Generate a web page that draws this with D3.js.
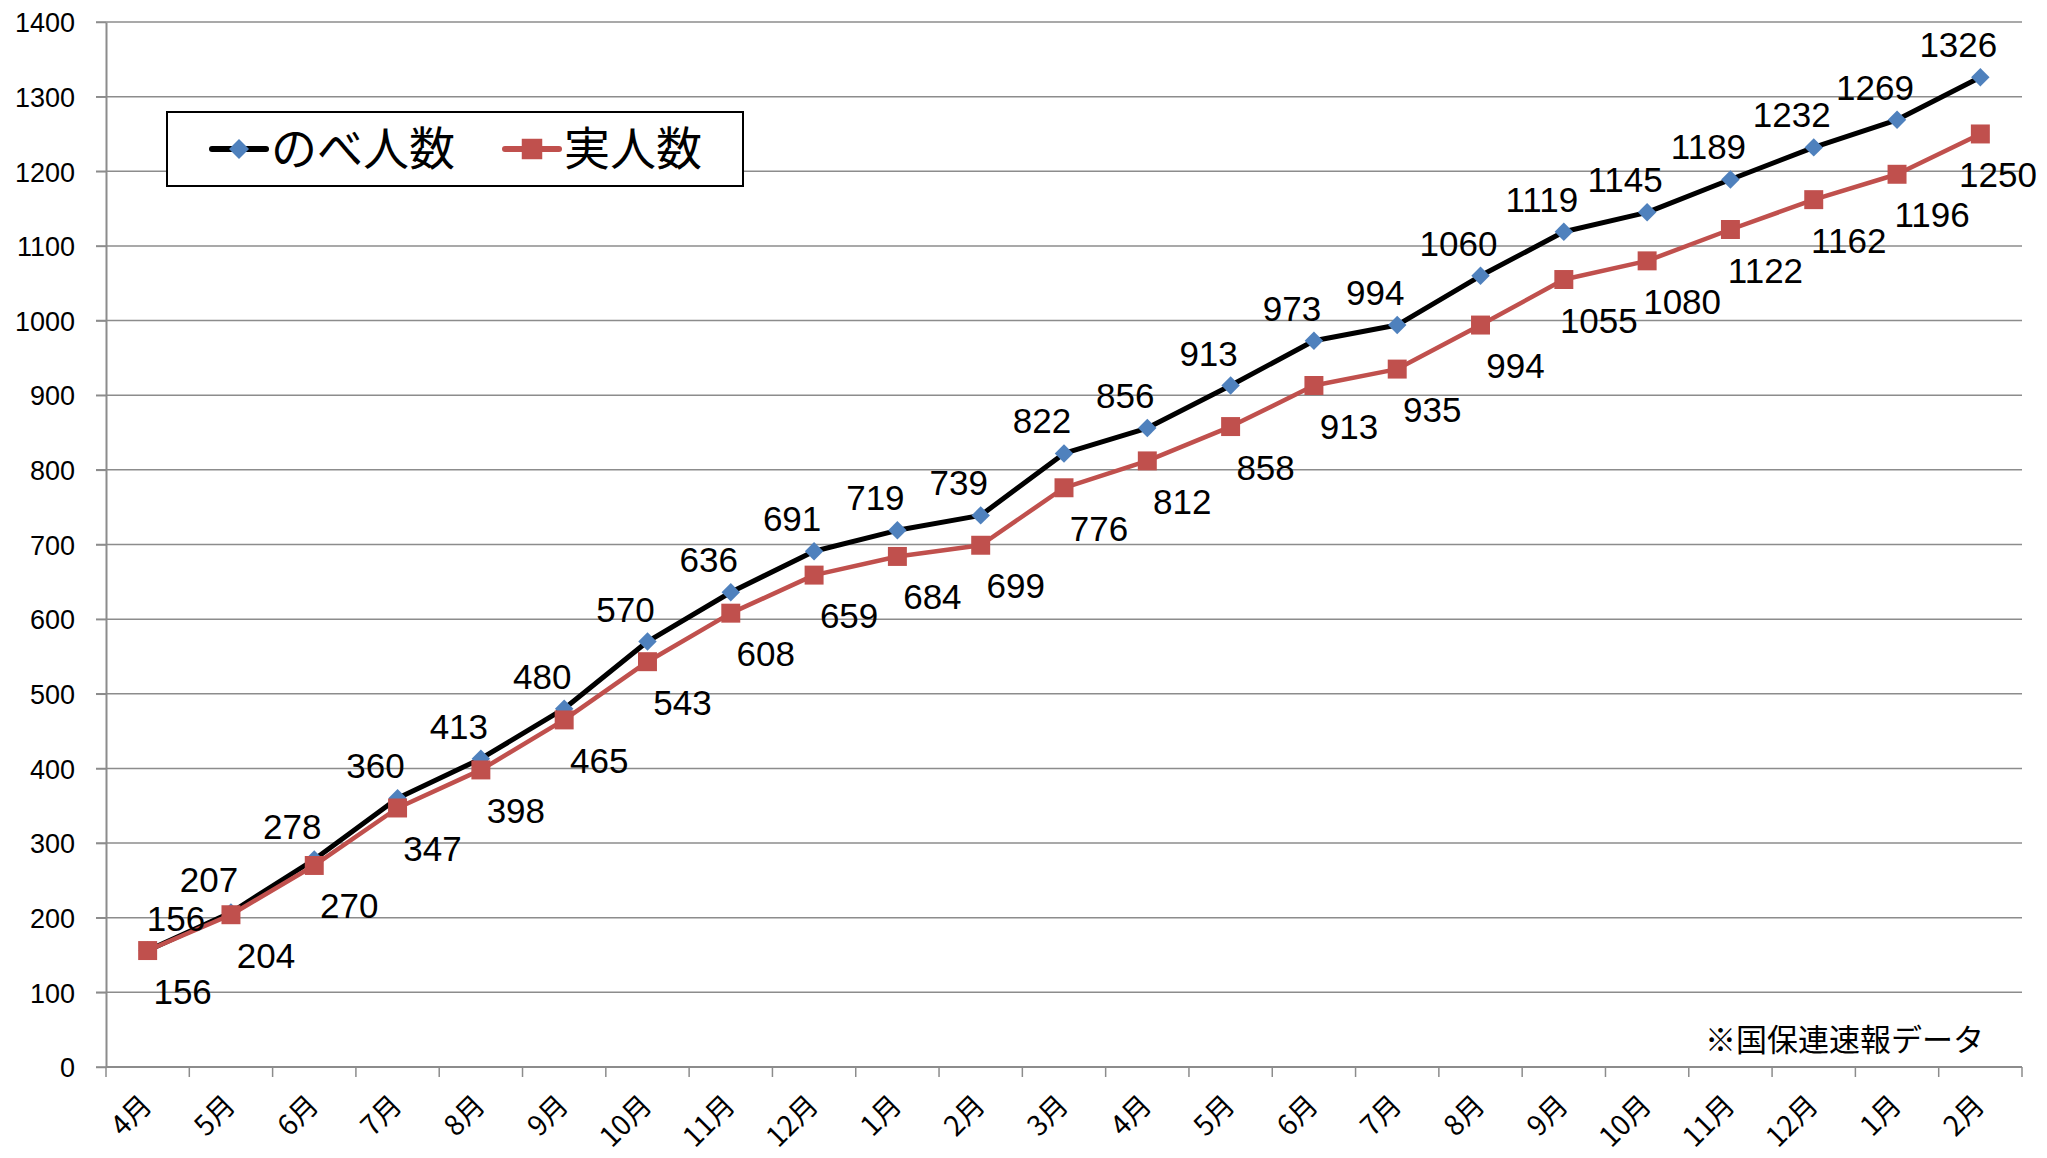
<!DOCTYPE html>
<html>
<head>
<meta charset="utf-8">
<script src="https://cdn.jsdelivr.net/npm/d3@7"></script>
<style>
	body { margin: 0; background: #fff; }
	svg { display: block; }
</style>
</head>
<body>
<div id="chart"></div>
<script>

// Data

var months = ['4月', '5月', '6月', '7月', '8月', '9月', '10月', '11月', '12月', '1月', '2月', '3月',
	'4月', '5月', '6月', '7月', '8月', '9月', '10月', '11月', '12月', '1月', '2月'];

var nobe = [156, 207, 278, 360, 413, 480, 570, 636, 691, 719, 739, 822,
	856, 913, 973, 994, 1060, 1119, 1145, 1189, 1232, 1269, 1326];

var jitsu = [156, 204, 270, 347, 398, 465, 543, 608, 659, 684, 699, 776,
	812, 858, 913, 935, 994, 1055, 1080, 1122, 1162, 1196, 1250];

var yTicks = [0, 100, 200, 300, 400, 500, 600, 700, 800, 900, 1000, 1100, 1200, 1300, 1400];

var seriesNames = ['のべ人数', '実人数'];
var note = '※国保連速報データ';

// Chart setup

var
	W = 2047, H = 1158,
	plotL = 106, plotR = 2022, plotT = 22, plotB = 1067,
	gridColor = '#8c8c8c',
	blue = '#4f81bd', red = '#c0504d',
	numFont = '"Liberation Sans", Arial, sans-serif',
	jpFont = '"Noto Sans CJK JP", sans-serif',

	svg = d3.select('#chart').append('svg')
		.attr('width', W)
		.attr('height', H),

	x = d3.scaleBand()
		.domain(d3.range(months.length))
		.range([plotL, plotR]),

	y = d3.scaleLinear()
		.domain([0, 1400])
		.range([plotB, plotT]);

function cx(i) { return x(i) + x.bandwidth() / 2; }

// Gridlines

svg.append('g').selectAll('line')
	.data(yTicks)
	.enter()
	.append('line')
	.attr('x1', plotL - 10)
	.attr('x2', plotR)
	.attr('y1', function(d) {return y(d);})
	.attr('y2', function(d) {return y(d);})
	.style('stroke', gridColor)
	.style('stroke-width', 1.5);

// Y axis

var yAxis = svg.append('g')
	.attr('transform', 'translate(' + plotL + ',0)')
	.call(d3.axisLeft(y)
		.tickValues(yTicks)
		.tickFormat(d3.format('d'))
		.tickSize(10)
		.tickSizeOuter(0));

yAxis.select('.domain').style('stroke', gridColor).style('stroke-width', 2);
yAxis.selectAll('.tick line').style('stroke', gridColor).style('stroke-width', 1.5);
yAxis.selectAll('.tick text')
	.attr('x', -31)
	.attr('dy', '0.36em')
	.style('font-family', numFont)
	.style('font-size', '27px')
	.style('fill', '#000');

// X axis (ticks between categories)

var xEdges = d3.range(months.length + 1).map(function(i) {
	return i < months.length ? x(i) : plotR;
});

svg.append('line')
	.attr('x1', plotL).attr('x2', plotR)
	.attr('y1', plotB).attr('y2', plotB)
	.style('stroke', gridColor)
	.style('stroke-width', 2);

svg.append('g').selectAll('line')
	.data(xEdges)
	.enter()
	.append('line')
	.attr('x1', function(d) {return d;})
	.attr('x2', function(d) {return d;})
	.attr('y1', plotB)
	.attr('y2', plotB + 10)
	.style('stroke', gridColor)
	.style('stroke-width', 1.5);

svg.append('g').selectAll('text')
	.data(months)
	.enter()
	.append('text')
	.attr('transform', function(d, i) {
		return 'translate(' + (cx(i) + 6) + ',' + (plotB + 40) + ') rotate(-45)';
	})
	.attr('text-anchor', 'end')
	.style('font-family', jpFont)
	.style('font-size', '28px')
	.text(function(d) {return d;});

// Lines

var line = d3.line()
	.x(function(d, i) {return cx(i);})
	.y(function(d) {return y(d);});

svg.append('path')
	.datum(nobe)
	.attr('d', line)
	.style('fill', 'none')
	.style('stroke', '#000')
	.style('stroke-width', 5)
	.style('stroke-linejoin', 'round');

svg.append('path')
	.datum(jitsu)
	.attr('d', line)
	.style('fill', 'none')
	.style('stroke', red)
	.style('stroke-width', 4.5)
	.style('stroke-linejoin', 'round');

// Markers

var diamond = d3.symbol(d3.symbolSquare, 170),
	square = d3.symbol(d3.symbolSquare, 360),
	legDiamond = d3.symbol(d3.symbolSquare, 200),
	legSquare = d3.symbol(d3.symbolSquare, 420);

svg.append('g').selectAll('path')
	.data(nobe)
	.enter()
	.append('path')
	.attr('d', diamond)
	.attr('transform', function(d, i) {
		return 'translate(' + cx(i) + ',' + y(d) + ') rotate(45)';
	})
	.style('fill', blue);

svg.append('g').selectAll('path')
	.data(jitsu)
	.enter()
	.append('path')
	.attr('d', square)
	.attr('transform', function(d, i) {
		return 'translate(' + cx(i) + ',' + y(d) + ')';
	})
	.style('fill', red);

// Data labels (kept inside the plot area)

svg.append('g').selectAll('text')
	.data(nobe)
	.enter()
	.append('text')
	.attr('x', function(d, i) {return Math.max(plotL + 70, Math.min(cx(i) - 22, 1995));})
	.attr('y', function(d) {return y(d) - 20;})
	.attr('text-anchor', 'middle')
	.style('font-family', numFont)
	.style('font-size', '35px')
	.text(function(d) {return d;});

svg.append('g').selectAll('text')
	.data(jitsu)
	.enter()
	.append('text')
	.attr('x', function(d, i) {return Math.min(cx(i) + 35, 1998);})
	.attr('y', function(d) {return y(d) + 53;})
	.attr('text-anchor', 'middle')
	.style('font-family', numFont)
	.style('font-size', '35px')
	.text(function(d) {return d;});

// Legend

var legend = svg.append('g');

legend.append('rect')
	.attr('x', 167).attr('y', 112)
	.attr('width', 576).attr('height', 74)
	.style('fill', '#fff')
	.style('stroke', '#000')
	.style('stroke-width', 2);

legend.append('line')
	.attr('x1', 212).attr('x2', 266)
	.attr('y1', 149).attr('y2', 149)
	.style('stroke', '#000')
	.style('stroke-width', 6)
	.style('stroke-linecap', 'round');

legend.append('path')
	.attr('d', legDiamond)
	.attr('transform', 'translate(239,149) rotate(45)')
	.style('fill', blue);

legend.append('text')
	.attr('x', 271).attr('y', 165)
	.style('font-family', jpFont)
	.style('font-size', '46px')
	.text(seriesNames[0]);

legend.append('line')
	.attr('x1', 505).attr('x2', 559)
	.attr('y1', 149).attr('y2', 149)
	.style('stroke', red)
	.style('stroke-width', 6)
	.style('stroke-linecap', 'round');

legend.append('path')
	.attr('d', legSquare)
	.attr('transform', 'translate(532,149)')
	.style('fill', red);

legend.append('text')
	.attr('x', 564).attr('y', 165)
	.style('font-family', jpFont)
	.style('font-size', '46px')
	.text(seriesNames[1]);

// Source note

svg.append('text')
	.attr('x', 1984).attr('y', 1051)
	.attr('text-anchor', 'end')
	.style('font-family', jpFont)
	.style('font-size', '31px')
	.text(note);

</script>
</body>
</html>
